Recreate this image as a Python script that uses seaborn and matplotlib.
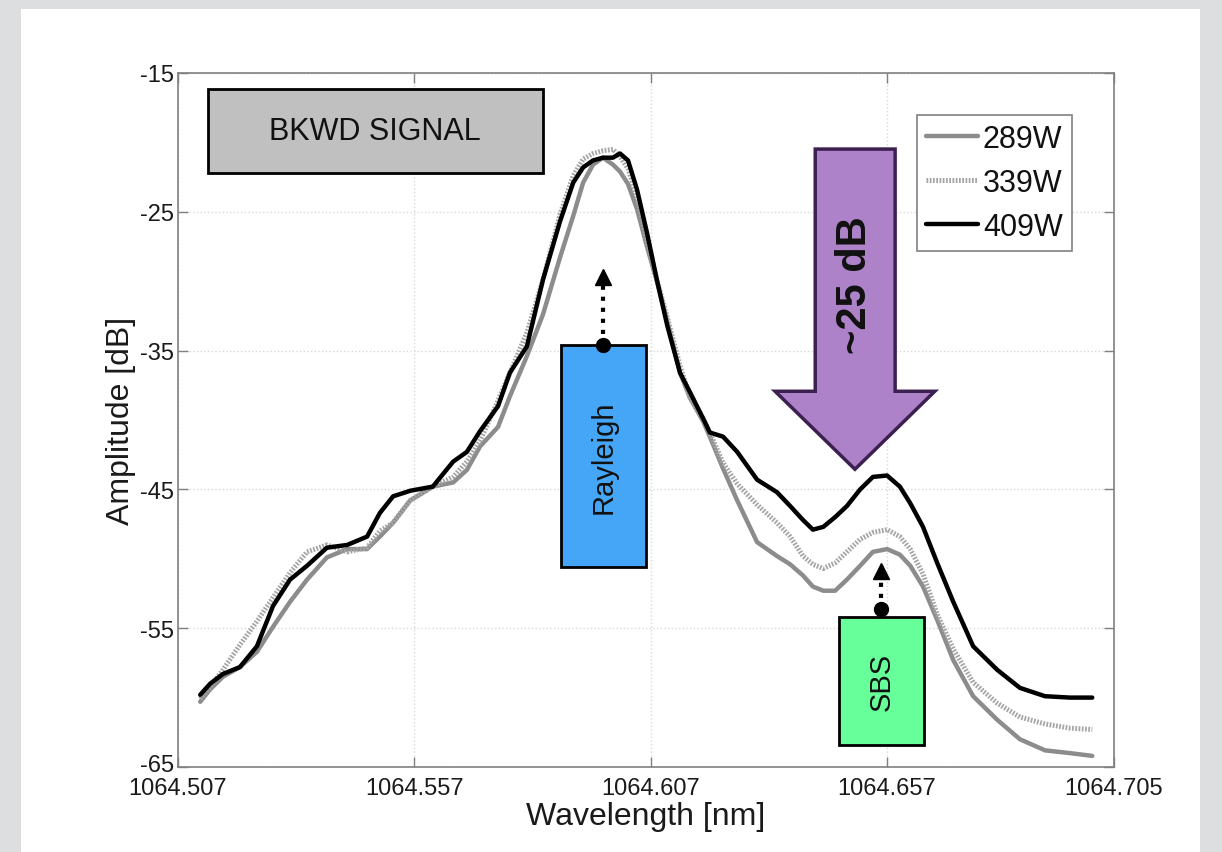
import matplotlib
matplotlib.use("Agg")
import matplotlib.pyplot as plt
from matplotlib.patches import Rectangle, Polygon
from matplotlib.transforms import ScaledTranslation
import numpy as np
import pandas as pd
import seaborn as sns

# Backward-signal spectra at three pump powers
wavelength = [
    1064.5117, 1064.5138, 1064.5165, 1064.5201, 1064.5237, 1064.5271, 1064.5307, 1064.5343,
    1064.5385, 1064.5428, 1064.5470, 1064.5497, 1064.5525, 1064.5561, 1064.5609, 1064.5652,
    1064.5681, 1064.5709, 1064.5747, 1064.5772, 1064.5808, 1064.5842, 1064.5878, 1064.5906,
    1064.5927, 1064.5948, 1064.5969, 1064.5990, 1064.6005, 1064.6022, 1064.6041, 1064.6062,
    1064.6083, 1064.6105, 1064.6132, 1064.6153, 1064.6181, 1064.6195, 1064.6223, 1064.6253,
    1064.6295, 1064.6337, 1064.6365, 1064.6392, 1064.6413, 1064.6435, 1064.6460, 1064.6485,
    1064.6513, 1064.6540, 1064.6570, 1064.6597, 1064.6619, 1064.6646, 1064.6676, 1064.6710,
    1064.6752, 1064.6803, 1064.6851, 1064.6904, 1064.6957, 1064.7004,
]

amp_289w = [
    -60.3, -59.4, -58.5, -57.8, -56.7, -54.9, -53.1, -51.5,
    -49.9, -49.3, -49.3, -48.4, -47.4, -45.8, -44.8, -44.5,
    -43.6, -41.9, -40.5, -38.3, -35.4, -32.4, -28.3, -25.3,
    -22.9, -21.6, -21.1, -21.6, -22.1, -23.0, -24.8, -27.5,
    -30.0, -32.9, -36.6, -38.4, -40.1, -41.2, -43.5, -45.8,
    -48.8, -49.8, -50.4, -51.2, -52.0, -52.3, -52.3, -51.5,
    -50.5, -49.5, -49.3, -49.7, -50.5, -52.0, -54.4, -57.3,
    -59.9, -61.6, -63.0, -63.8, -64.0, -64.2,
]

amp_339w = [
    -60.1, -59.2, -58.0, -56.2, -54.5, -52.8, -51.0, -49.5,
    -49.0, -49.5, -49.2, -48.0, -47.4, -45.8, -44.8, -44.1,
    -43.0, -41.5, -38.6, -36.6, -33.7, -29.9, -25.2, -22.4,
    -21.2, -20.8, -20.6, -20.5, -21.0, -21.9, -23.9, -27.1,
    -29.9, -32.6, -36.1, -38.4, -39.9, -40.9, -43.1, -44.6,
    -46.1, -47.4, -48.4, -49.8, -50.4, -50.7, -50.3, -49.5,
    -48.6, -48.1, -47.9, -48.4, -49.3, -51.1, -54.0, -56.5,
    -58.9, -60.4, -61.4, -61.9, -62.2, -62.3,
]

amp_409w = [
    -59.8, -59.0, -58.3, -57.8, -56.3, -53.4, -51.5, -50.5,
    -49.2, -49.0, -48.4, -46.7, -45.5, -45.1, -44.8, -43.0,
    -42.3, -40.8, -39.0, -36.6, -34.7, -29.9, -25.7, -22.9,
    -21.8, -21.3, -21.1, -21.1, -20.8, -21.3, -23.4, -26.5,
    -29.9, -33.2, -36.6, -38.0, -39.9, -40.9, -41.2, -42.3,
    -44.3, -45.2, -46.2, -47.2, -47.9, -47.7, -47.0, -46.2,
    -45.0, -44.1, -44.0, -44.8, -46.0, -47.7, -50.3, -53.1,
    -56.3, -58.0, -59.3, -59.9, -60.0, -60.0,
]

series_labels = ["289W", "339W", "409W"]
x_ticks = [1064.507, 1064.557, 1064.607, 1064.657, 1064.705]
y_ticks = [-65, -55, -45, -35, -25, -15]

sns.set_theme(style="white")
plt.rcParams["font.family"] = ["Liberation Sans", "DejaVu Sans"]

fig = plt.figure(figsize=(12.22, 8.53), dpi=100, facecolor="#dddee0")
W, H = 1222.0, 853.0
# white slide panel behind the axes
fig.patches.append(Rectangle((21 / W, 0), (1200 - 21) / W, (853 - 10) / H,
                             transform=fig.transFigure, facecolor="white",
                             edgecolor="none", zorder=-10))

ax = fig.add_axes([178 / W, 1 - 768 / H, (1114 - 178) / W, (768 - 74) / H])
ax.set_zorder(1)
ax.set_facecolor("white")

df = pd.DataFrame({"wavelength": wavelength * 3,
                   "amplitude": amp_289w + amp_339w + amp_409w,
                   "power": np.repeat(series_labels, len(wavelength))})

styles = {
    "289W": dict(color="#8c8c8c", lw=3.2, ls="-"),
    "339W": dict(color="#a5a5a5", lw=3.6, ls=(0, (0.35, 0.3))),
    "409W": dict(color="#000000", lw=3.2, ls="-"),
}
for name in series_labels:
    sub = df[df["power"] == name]
    st = styles[name]
    sns.lineplot(data=sub, x="wavelength", y="amplitude", ax=ax, color=st["color"],
                 linewidth=st["lw"], linestyle=st["ls"], label=name, zorder=3,
                 solid_joinstyle="round", solid_capstyle="round",
                 dash_joinstyle="round")

ax.set_xlim(1064.507, 1064.705)
ax.set_ylim(-65, -15)
ax.set_xticks(x_ticks)
ax.set_xticklabels([f"{v:.3f}" for v in x_ticks])
ax.set_yticks(y_ticks)
ax.set_yticklabels([str(v) for v in y_ticks])
ax.grid(True, color="#d8d8d8", linestyle=":", linewidth=1.0)
ax.tick_params(direction="in", length=7, width=1, color="#808080",
               labelsize=17, labelcolor="#1a1a1a", top=True, right=True,
               left=True, bottom=True)
ax.tick_params(axis="x", pad=7)
ax.tick_params(axis="y", pad=3)
for s in ax.spines.values():
    s.set_color("#808080")
    s.set_linewidth(1.2)
    s.set_visible(True)

# lift the bottom y label a little so it sits just above the corner x label
lowest = ax.get_yticklabels()[0]
lowest.set_transform(lowest.get_transform() + ScaledTranslation(0, 3 / 72, fig.dpi_scale_trans))

ax.set_xlabel("Wavelength [nm]", fontsize=23, color="#1a1a1a", labelpad=2)
ax.set_ylabel("Amplitude [dB]", fontsize=23, color="#1a1a1a", labelpad=3)

leg = ax.legend(loc="upper right", bbox_to_anchor=(0.955, 0.9395), borderaxespad=0,
                fontsize=22, frameon=True, fancybox=False, framealpha=1,
                edgecolor="#808080", handlelength=1.7, handletextpad=0.15,
                labelspacing=0.45, borderpad=0.3)
leg.get_frame().set_linewidth(1.2)
for t in leg.get_texts():
    t.set_color("#111111")

# BKWD SIGNAL label box
ax.add_patch(Rectangle((1064.5133, -22.21), 1064.5842 - 1064.5133, 22.21 - 16.15,
                       facecolor="#c0c0c0", edgecolor="black", lw=2, zorder=4))
ax.text((1064.5133 + 1064.5842) / 2, -19.18, "BKWD SIGNAL", fontsize=22,
        ha="center", va="center", color="#111111", zorder=5)

# Rayleigh box and arrow
ax.add_patch(Rectangle((1064.5880, -50.62), 1064.6060 - 1064.5880, 50.62 - 34.61,
                       facecolor="#45a5f7", edgecolor="black", lw=2, zorder=4))
ax.text(1064.5970, -42.6, "Rayleigh", fontsize=21, rotation=90,
        ha="center", va="center", color="#111111", zorder=5)
ax.plot([1064.5969, 1064.5969], [-34.61, -30.3], color="black", lw=3, ls=":", zorder=5)
ax.plot(1064.5969, -29.7, marker="^", ms=12, color="black", zorder=6)
ax.plot(1064.5969, -34.61, marker="o", ms=10, color="black", zorder=6)

# SBS box and arrow
ax.add_patch(Rectangle((1064.6468, -63.38), 1064.6648 - 1064.6468, 63.38 - 54.22,
                       facecolor="#66ff99", edgecolor="black", lw=2, zorder=4))
ax.text(1064.6558, -58.8, "SBS", fontsize=21, rotation=90,
        ha="center", va="center", color="#111111", zorder=5)
ax.plot([1064.6557, 1064.6557], [-53.65, -51.4], color="black", lw=3, ls=":", zorder=5)
ax.plot(1064.6557, -50.85, marker="^", ms=11, color="black", zorder=6)
ax.plot(1064.6557, -53.65, marker="o", ms=10, color="black", zorder=6)

# ~25 dB block arrow
arrow_pts = [
    (1064.6418, -20.48), (1064.6587, -20.48), (1064.6587, -37.93),
    (1064.6671, -37.93), (1064.6502, -43.55), (1064.6333, -37.93),
    (1064.6418, -37.93),
]
ax.add_patch(Polygon(arrow_pts, closed=True, facecolor="#ad82c9",
                     edgecolor="#3b2050", lw=2.5, zorder=4))
ax.text(1064.6502, -30.2, "~25 dB", fontsize=30, fontweight="bold", rotation=90,
        ha="center", va="center", color="#111111", zorder=5)

fig.savefig("out.png", dpi=100, facecolor=fig.get_facecolor())
